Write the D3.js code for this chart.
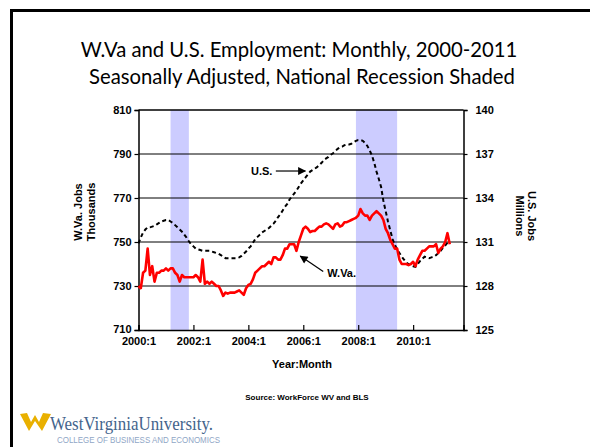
<!DOCTYPE html>
<html lang="en">
  <head>
    <meta charset="UTF-8" />
    <title>W.Va and U.S. Employment</title>
    <style>
        body { margin: 0; background: #fff; }
        .tick-lbl, .axis-title { font-family: "Liberation Sans", Arial, sans-serif; font-weight: bold; fill: #000; }
        .tick-lbl { font-size: 11px; }
        .axis-title { font-size: 11px; }
        .title { font-family: Lato, "Open Sans", sans-serif; font-size: 20.3px; fill: #000; }
    </style>
    <script src="https://d3js.org/d3.v7.min.js"></script>
  </head>
  <body>
    <div id="chart"></div>
    <script>
        // monthly series, 2000:1 onward
        const startYear = 2000;
        const wvJobs = [
            730, 729, 736, 737, 747, 735, 739, 732, 736, 736, 737, 737,
            738, 737, 738, 738, 736, 735, 732, 735, 734, 734, 734, 734,
            734, 735, 734, 732, 742, 731, 732, 731, 732, 731, 730, 730,
            728, 725.5, 727, 726.5, 727, 727, 727, 727.5, 728, 727, 726, 729,
            730.5, 731, 733, 736, 737, 738, 739, 739, 740, 741, 740, 743,
            743, 742, 742, 744, 747, 747, 749, 749, 749, 746, 750, 753,
            756, 757, 756, 754.5, 755, 755, 756, 757, 757, 758, 758.5, 758,
            757, 756, 758, 758.5, 757, 757.5, 759, 759, 759.5, 760, 760.5, 761,
            762, 765, 763, 762, 762, 760, 762, 763, 764, 763, 762, 760,
            756, 754, 751, 749, 747, 747, 742, 740, 740, 740, 739.5, 740,
            741, 739, 742, 744, 746, 746, 747, 748, 748, 748, 749, 745,
            747, 748, 750, 754, 749
        ];
        const usJobs = [
            130.9, 131.3, 131.65, 131.85, 132.0, 132.0, 132.05, 132.1, 132.2, 132.3, 132.4, 132.45,
            132.5, 132.5, 132.4, 132.3, 132.15, 132.0, 131.85, 131.7, 131.5, 131.3, 131.05, 130.85,
            130.7, 130.55, 130.5, 130.45, 130.4, 130.4, 130.4, 130.4, 130.35, 130.3, 130.25, 130.2,
            130.1, 130.0, 129.9, 129.9, 129.9, 129.9, 129.9, 129.9, 129.95, 130.05, 130.2, 130.35,
            130.55, 130.7, 130.95, 131.2, 131.35, 131.5, 131.65, 131.75, 131.85, 131.95, 132.1, 132.25,
            132.45, 132.7, 132.9, 133.15, 133.4, 133.6, 133.9, 134.1, 134.3, 134.5, 134.75, 135.0,
            135.2, 135.4, 135.6, 135.8, 135.9, 136.0, 136.1, 136.25, 136.4, 136.6, 136.7, 136.8,
            136.95, 137.05, 137.2, 137.35, 137.45, 137.5, 137.6, 137.65, 137.65, 137.7, 137.8, 137.9,
            137.95, 137.95, 137.9, 137.75, 137.55, 137.25, 136.9, 136.4, 135.8, 135.3, 134.75, 133.8,
            133.1, 132.4, 131.8, 131.2, 130.8, 130.5, 130.25, 130.0, 129.8, 129.6, 129.5, 129.4,
            129.35, 129.3, 129.5, 129.7, 129.85, 130.0, 129.95, 129.9, 129.95, 130.0, 130.1, 130.25,
            130.4, 130.6, 130.75, 130.95, 131.05
        ];
        const xTicks = ["2000:1", "2002:1", "2004:1", "2006:1", "2008:1", "2010:1"];
        const leftTicks = [710, 730, 750, 770, 790, 810];
        const rightTicks = [125, 128, 131, 134, 137, 140];
        const recessions = [["2001:3", "2001:11"], ["2007:12", "2009:6"]];

        const W = 590, H = 447;
        const L = 138.5, R = 463.5, T = 110, B = 330;
        const monthIdx = s => { const p = s.split(":"); return (+p[0] - startYear) * 12 + (+p[1] - 1); };

        const svg = d3.select("#chart").append("svg")
            .attr("width", W).attr("height", H);
        svg.append("rect").attr("width", W).attr("height", H).attr("fill", "#fff");

        // slide frame
        svg.append("path").attr("d", `M11.5,${H} V10.5 H${W}`)
            .attr("fill", "none").attr("stroke", "#000").attr("stroke-width", 3);

        // title
        const title = svg.append("text").attr("class", "title").attr("text-anchor", "middle");
        title.append("tspan").attr("x", 299).attr("y", 57).text("W.Va and U.S. Employment: Monthly, 2000-2011");
        title.append("tspan").attr("x", 302).attr("y", 84).text("Seasonally Adjusted, National Recession Shaded");

        const x = d3.scaleLinear().domain([0, 142]).range([L, R]);
        const yL = d3.scaleLinear().domain([710, 810]).range([B, T]);
        const yR = d3.scaleLinear().domain([125, 140]).range([B, T]);

        // recession shading
        svg.append("g").selectAll("rect").data(recessions).join("rect")
            .attr("x", d => x(monthIdx(d[0])))
            .attr("width", d => x(monthIdx(d[1])) - x(monthIdx(d[0])))
            .attr("y", T).attr("height", B - T)
            .attr("fill", "#ccccff");

        // gridlines
        svg.append("g").selectAll("line").data(leftTicks.slice(1, -1)).join("line")
            .attr("x1", L).attr("x2", R)
            .attr("y1", d => yL(d)).attr("y2", d => yL(d))
            .attr("stroke", "#000").attr("stroke-width", 1);

        // axes
        const gL = svg.append("g").attr("transform", `translate(${L},0)`)
            .call(d3.axisLeft(yL).tickValues(leftTicks).tickSize(4).tickPadding(3));
        const gR = svg.append("g").attr("transform", `translate(${R},0)`)
            .call(d3.axisRight(yR).tickValues(rightTicks).tickSize(4).tickPadding(8));
        const gB = svg.append("g").attr("transform", `translate(0,${B})`)
            .call(d3.axisBottom(x).tickValues(xTicks.map(monthIdx)).tickSize(-5).tickPadding(3)
                .tickFormat((d, i) => xTicks[i]));
        svg.append("line").attr("x1", L).attr("x2", R).attr("y1", T).attr("y2", T)
            .attr("stroke", "#000").attr("stroke-width", 1.5);
        [gL, gR, gB].forEach(g => {
            g.select(".domain").attr("stroke", "#000").attr("stroke-width", 1.5);
            g.selectAll(".tick line").attr("stroke", "#000").attr("stroke-width", 1.2);
            g.selectAll(".tick text").attr("class", "tick-lbl").attr("fill", "#000");
        });
        gB.selectAll(".tick text").attr("dy", "1.05em");
        gL.selectAll(".tick text").filter(d => d === 710).attr("dy", "0.2em");

        // lines
        const usLine = d3.line().x((d, i) => x(i)).y(d => yR(d));
        const wvLine = d3.line().x((d, i) => x(i)).y(d => yL(d));
        svg.append("path").datum(usJobs).attr("d", usLine)
            .attr("fill", "none").attr("stroke", "#000").attr("stroke-width", 2)
            .attr("stroke-dasharray", "4,3");
        svg.append("path").datum(wvJobs).attr("d", wvLine)
            .attr("fill", "none").attr("stroke", "#ff0000").attr("stroke-width", 2.6)
            .attr("stroke-linejoin", "round");

        // annotations
        svg.append("defs").append("marker").attr("id", "head")
            .attr("viewBox", "0 0 10 10").attr("refX", 9).attr("refY", 5)
            .attr("markerWidth", 9).attr("markerHeight", 8).attr("markerUnits", "userSpaceOnUse")
            .attr("orient", "auto")
            .append("path").attr("d", "M0,0 L10,5 L0,10 Z").attr("fill", "#000");

        svg.append("text").attr("class", "axis-title").attr("text-anchor", "end")
            .attr("x", x(58.5)).attr("y", yR(135.84) + 4).text("U.S.");
        svg.append("line").attr("x1", x(60)).attr("y1", yR(135.84))
            .attr("x2", x(72.9)).attr("y2", yR(135.84))
            .attr("stroke", "#000").attr("stroke-width", 1.2).attr("marker-end", "url(#head)");

        svg.append("text").attr("class", "axis-title")
            .attr("x", x(82.5)).attr("y", yL(735.9) + 4).text("W.Va.");
        svg.append("line").attr("x1", x(80.7)).attr("y1", yL(736.6))
            .attr("x2", x(70.7)).attr("y2", yL(743.6))
            .attr("stroke", "#000").attr("stroke-width", 1.2).attr("marker-end", "url(#head)");

        // axis titles
        const lt = svg.append("text").attr("class", "axis-title").attr("text-anchor", "middle")
            .attr("transform", "rotate(-90)");
        lt.append("tspan").attr("x", -212).attr("y", 82).text("W.Va. Jobs");
        lt.append("tspan").attr("x", -212).attr("y", 95).text("Thousands");
        const rt = svg.append("text").attr("class", "axis-title").attr("text-anchor", "middle")
            .attr("transform", "rotate(90)");
        rt.append("tspan").attr("x", 216).attr("y", -528).text("U.S. Jobs");
        rt.append("tspan").attr("x", 216).attr("y", -516).text("Millions");

        svg.append("text").attr("class", "axis-title").attr("text-anchor", "middle")
            .attr("x", 302).attr("y", 368).text("Year:Month");
        svg.append("text").attr("class", "axis-title").attr("text-anchor", "middle")
            .style("font-size", "8px")
            .attr("x", 307).attr("y", 400).text("Source: WorkForce WV and BLS");

        // logo
        svg.append("path")
            .attr("d", "M20,414 L27,413 L31,422 L35,415 L39,422 L43,413 L51,414 L42,431 L35,421 L29,431 Z")
            .attr("fill", "#e9b000");
        svg.append("text").attr("x", 50).attr("y", 430)
            .attr("font-family", "Liberation Serif, serif").attr("font-size", 19)
            .attr("textLength", 163).attr("lengthAdjust", "spacingAndGlyphs")
            .attr("fill", "#44648c").text("WestVirginiaUniversity.");
        svg.append("text").attr("x", 57).attr("y", 443)
            .attr("font-family", "Liberation Sans, sans-serif").attr("font-size", 8.3)
            .attr("textLength", 163).attr("lengthAdjust", "spacingAndGlyphs")
            .attr("fill", "#8fa6c6").text("COLLEGE OF BUSINESS AND ECONOMICS");
    </script>
  </body>
</html>
